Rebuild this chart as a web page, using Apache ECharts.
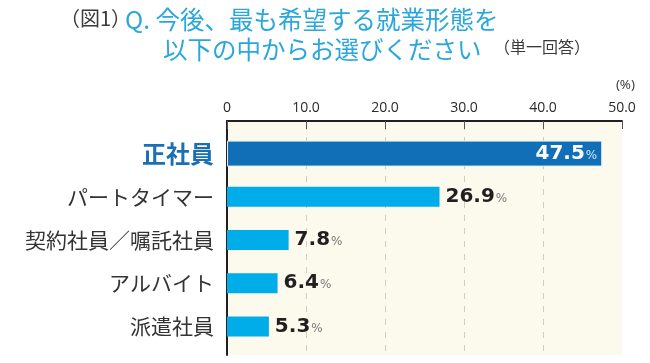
<!DOCTYPE html>
<html><head><meta charset="utf-8">
<script src="https://cdn.jsdelivr.net/npm/echarts@6/dist/echarts.min.js"></script>
<style>html,body{margin:0;padding:0;background:#fff}#c{width:650px;height:363px}</style>
</head><body><div id="c"></div>
<script>
const categories = ['正社員', 'パートタイマー', '契約社員／嘱託社員', 'アルバイト', '派遣社員'];
const values = [47.5, 26.9, 7.8, 6.4, 5.3];
const tickLabels = ['0', '10.0', '20.0', '30.0', '40.0', '50.0'];

const chart = echarts.init(document.getElementById('c'));
const JP = '"Noto Sans CJK JP", sans-serif';
const NUM = '"DejaVu Sans", "Liberation Sans", sans-serif';
const AX = '"Open Sans", "Noto Sans", sans-serif';

const highlight = values.map((v, i) => i === 0 ? v : '-');
const rest = values.map((v, i) => i === 0 ? '-' : v);

chart.setOption({
  animation: false,
  backgroundColor: '#fff',
  graphic: [
    { type: 'text', left: 60, top: 8, style: { text: '（図1）', font: '20px ' + JP, fill: '#3a3a3a' } },
    { type: 'text', left: 125, top: 7, style: { text: 'Q. 今後、最も希望する就業形態を', font: '24.5px ' + JP, fill: '#2aa7dc' } },
    { type: 'text', left: 163, top: 37, style: { text: '以下の中からお選びください', font: '24.5px ' + JP, fill: '#2aa7dc' } },
    { type: 'text', left: 494, top: 39, style: { text: '（単一回答）', font: '16px ' + JP, fill: '#3a3a3a' } },
    { type: 'text', right: 15, top: 78, style: { text: '(%)', font: '13.5px ' + AX, fill: '#333' } }
  ],
  grid: [
    { left: 227, top: 121, width: 395, height: 234, show: true, backgroundColor: '#fcf9ed', borderWidth: 0 },
    { left: 227, top: 132, width: 395, height: 216 }
  ],
  xAxis: [
    { gridIndex: 0, type: 'value', position: 'top', min: 0, max: 50, interval: 10,
      axisLine: { show: true, lineStyle: { color: '#231f20', width: 2 } },
      axisTick: { show: true, inside: true, length: 8, lineStyle: { color: '#555', width: 1 } },
      axisLabel: { margin: 6, color: '#2a2a2a', fontSize: 14, fontFamily: AX,
        formatter: (v) => tickLabels[Math.round(v / 10)] },
      splitLine: { show: true, showMinLine: false, showMaxLine: false,
        lineStyle: { color: '#cfcdc6', width: 1, type: [6, 7], dashOffset: -3 } } },
    { gridIndex: 1, type: 'value', min: 0, max: 50, show: false }
  ],
  yAxis: [
    { gridIndex: 0, type: 'category', data: [''], axisLine: { show: true, lineStyle: { color: '#231f20', width: 2 } },
      axisTick: { show: false }, axisLabel: { show: false } },
    { gridIndex: 1, type: 'category', inverse: true, data: categories,
      axisLine: { show: false }, axisTick: { show: false },
      axisLabel: { margin: 13, formatter: (v, i) => i === 0 ? '{a|' + v + '}' : '{b|' + v + '}',
        rich: {
          a: { fontFamily: JP, fontSize: 24, fontWeight: 'bold', color: '#1a6fb5' },
          b: { fontFamily: JP, fontSize: 21, color: '#333' }
        } } },
    { gridIndex: 1, type: 'category', inverse: true, data: categories, show: false }
  ],
  series: [
    { type: 'bar', xAxisIndex: 1, yAxisIndex: 1, data: rest, barWidth: 20,
      itemStyle: { color: '#00ade9' },
      label: { show: true, position: 'right', distance: 6,
        formatter: (p) => '{n|' + p.value.toFixed(1) + '}{p|%}',
        rich: {
          n: { fontFamily: NUM, fontSize: 20, fontWeight: 'bold', color: '#231f20' },
          p: { fontFamily: NUM, fontSize: 12, color: '#777', padding: [4, 0, 0, 1] }
        } } },
    { type: 'bar', xAxisIndex: 1, yAxisIndex: 2, data: highlight, barWidth: 26,
      itemStyle: { color: '#116fb7', borderColor: '#e8f2fa', borderWidth: 1 },
      label: { show: true, position: 'insideRight', distance: 5,
        formatter: (p) => '{n|' + p.value.toFixed(1) + '}{p|%}',
        rich: {
          n: { fontFamily: NUM, fontSize: 20, fontWeight: 'bold', color: '#fff' },
          p: { fontFamily: NUM, fontSize: 12, color: '#cfe3f3', padding: [4, 0, 0, 1] }
        } } }
  ]
});
</script></body></html>
